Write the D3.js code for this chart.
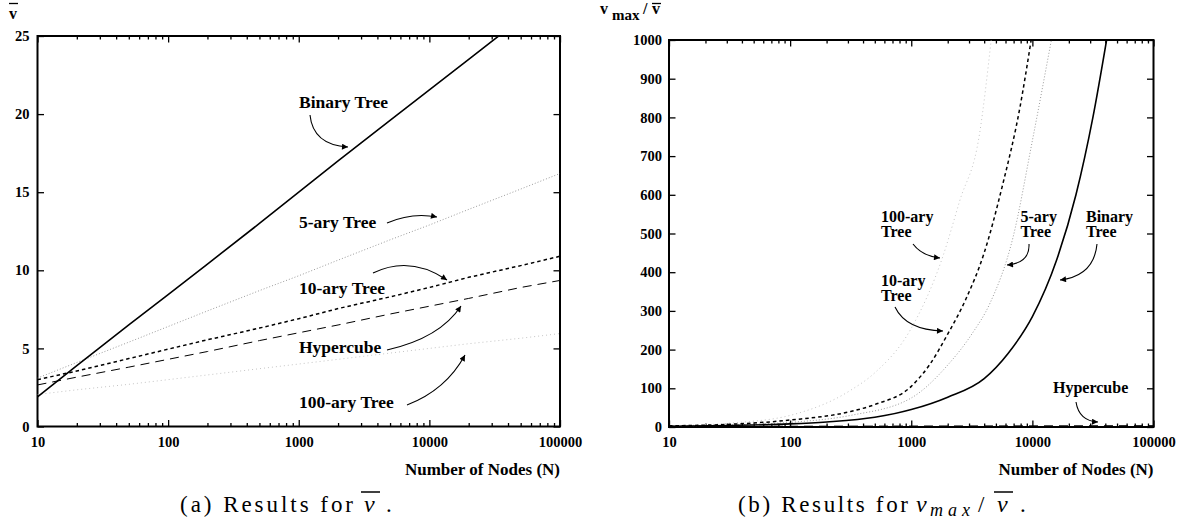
<!DOCTYPE html>
<html><head><meta charset="utf-8">
<script src="https://cdn.jsdelivr.net/npm/d3@7"></script>
<style>
html,body{margin:0;padding:0;background:#fff;}
</style></head>
<body><svg id="c" width="1190" height="521"></svg>
<script>
// ---------- DATA ----------
const xTickValues = [10, 100, 1000, 10000, 100000];
const yTicksLeft = [0, 5, 10, 15, 20, 25];
const yTicksRight = [0, 100, 200, 300, 400, 500, 600, 700, 800, 900, 1000];

// (a) mean v
const nodesA = [10, 20, 50, 100, 200, 500, 1000, 2000, 5000, 10000, 20000, 50000, 100000];
const binaryA = [1.9, 3.9, 6.5, 8.45, 10.4, 13.0, 15.0, 17.0, 19.6, 21.55, 23.5, 26.1, 28.1];
const ary5A = [3.1, 4.1, 5.4, 6.4, 7.4, 8.7, 9.65, 10.65, 11.95, 12.9, 13.9, 15.2, 16.2];
const ary10A = [3.0, 3.55, 4.35, 4.95, 5.55, 6.3, 6.9, 7.55, 8.3, 8.9, 9.55, 10.3, 10.9];
const hyperA = [2.66, 3.16, 3.8, 4.3, 4.8, 5.5, 6.0, 6.5, 7.2, 7.7, 8.2, 8.9, 9.35];
const ary100A = [2.05, 2.35, 2.7, 3.0, 3.3, 3.7, 4.0, 4.3, 4.7, 5.0, 5.3, 5.65, 5.95];

// (b) vmax / mean v
const binaryNodesB = [10, 32, 100, 200, 500, 1000, 2000, 4000, 6300, 10000, 15800, 22900, 31600, 41000];
const binaryB = [2, 4, 8, 13, 25, 45, 77, 125, 190, 285, 430, 600, 800, 1000];
const ary10NodesB = [10, 32, 100, 316, 500, 1000, 1410, 2000, 2820, 4000, 5620, 7940, 9770];
const ary10B = [3, 7, 18, 40, 58, 105, 160, 240, 330, 450, 620, 830, 1000];
const ary5NodesB = [10, 32, 100, 316, 1000, 2000, 3160, 4470, 6920, 10000, 14350];
const ary5B = [2.5, 5, 12, 30, 75, 160, 240, 320, 490, 740, 1000];
const ary100NodesB = [10, 32, 100, 316, 500, 1000, 1820, 2510, 3660, 4570];
const ary100B = [3, 10, 30, 95, 140, 255, 440, 584, 757, 1000];
const hyperNodesB = [10, 100, 1000, 10000, 100000];
const hyperB = [1.5, 2, 2.5, 3, 3.5];

// ---------- DRAW ----------
const FONT = "'Liberation Serif', 'Times New Roman', Times, serif";
const svg = d3.select("#c").attr("font-family", FONT).style("font-family", FONT);
svg.append("rect").attr("width",1190).attr("height",521).attr("fill","#fff");

const defs = svg.append("defs");
defs.append("marker").attr("id","ah").attr("viewBox","0 0 10 10").attr("refX",10).attr("refY",5)
  .attr("markerWidth",9).attr("markerHeight",6).attr("markerUnits","userSpaceOnUse").attr("orient","auto")
  .append("path").attr("d","M0,0 L10,5 L0,10 z").attr("fill","#000");

const minorVals = [];
for (let e = 1; e < 5; e++) for (let m = 2; m < 10; m++) minorVals.push(m * Math.pow(10, e));

const styles = {
  binary: {stroke:"#000", w:1.6, dash:null},
  ary5:   {stroke:"#9a9a9a", w:1, dash:"1,2"},
  ary10:  {stroke:"#000", w:1.5, dash:"3.5,3"},
  hyper:  {stroke:"#000", w:1, dash:"9,6"},
  ary100: {stroke:"#c4c4c4", w:1, dash:"1,3"}
};

function T(sel) { return sel.style("font-family", FONT); }

function panel(id, x0, x1, y0, y1, yDomain, yTicks, yPad) {
  const x = d3.scaleLog().domain([10, 100000]).range([x0, x1]);
  const y = d3.scaleLinear().domain(yDomain).range([y0, y1]);
  const g = svg.append("g");
  defs.append("clipPath").attr("id","clip"+id).append("rect")
    .attr("x",x0).attr("y",y1).attr("width",x1-x0).attr("height",y0-y1);
  g.append("g").attr("transform",`translate(0,${y0})`)
    .call(d3.axisBottom(x).tickValues(xTickValues).tickFormat(d3.format("d")).tickSize(-6.5).tickSizeOuter(0).tickPadding(10));
  g.append("g").attr("transform",`translate(0,${y0})`)
    .call(d3.axisBottom(x).tickValues(minorVals).tickFormat("").tickSize(-3.5).tickSizeOuter(0));
  g.append("g").attr("transform",`translate(0,${y1})`)
    .call(d3.axisTop(x).tickValues(xTickValues).tickFormat("").tickSize(-6.5).tickSizeOuter(0));
  g.append("g").attr("transform",`translate(0,${y1})`)
    .call(d3.axisTop(x).tickValues(minorVals).tickFormat("").tickSize(-3.5).tickSizeOuter(0));
  g.append("g").attr("transform",`translate(${x0},0)`)
    .call(d3.axisLeft(y).tickValues(yTicks).tickFormat(d3.format("d")).tickSize(-6.5).tickSizeOuter(0).tickPadding(yPad));
  g.append("g").attr("transform",`translate(${x1},0)`)
    .call(d3.axisRight(y).tickValues(yTicks).tickFormat("").tickSize(-6.5).tickSizeOuter(0));
  g.selectAll("g").attr("font-family", FONT);
  g.selectAll(".domain").remove();
  g.selectAll(".tick line").attr("stroke","#000").attr("stroke-width",1.3);
  g.selectAll(".tick text").style("font-family", FONT).style("font-weight","bold")
    .style("font-size","14.5px").attr("fill","#000");
  g.append("rect").attr("x",x0).attr("y",y1).attr("width",x1-x0).attr("height",y0-y1)
    .attr("fill","none").attr("stroke","#000").attr("stroke-width",2);
  T(g.append("text")).attr("x",x1).attr("y",475).attr("text-anchor","end")
    .attr("font-weight","bold").attr("font-size",17).text("Number of Nodes (N)");
  const lines = svg.append("g").attr("clip-path",`url(#clip${id})`);
  return {x, y, lines};
}

function drawLine(p, xs, ys, st, curve) {
  const line = d3.line().x(d => p.x(d[0])).y(d => p.y(d[1])).curve(curve || d3.curveLinear);
  p.lines.append("path").datum(xs.map((v,i)=>[v, ys[i]]))
    .attr("d", line).attr("fill","none").attr("stroke", st.stroke).attr("stroke-width", st.w)
    .attr("stroke-dasharray", st.dash);
}

// Panel (a)
const pa = panel("a", 37.5, 560, 426.5, 36, [0,25], yTicksLeft, 8);
drawLine(pa, nodesA, ary100A, styles.ary100);
drawLine(pa, nodesA, ary5A, styles.ary5);
drawLine(pa, nodesA, hyperA, styles.hyper);
drawLine(pa, nodesA, ary10A, styles.ary10);
drawLine(pa, nodesA, binaryA, styles.binary);

// Panel (b)
const pb = panel("b", 669, 1153.5, 427, 40, [0,1000], yTicksRight, 7);
const mc = d3.curveMonotoneX;
drawLine(pb, ary100NodesB, ary100B, styles.ary100, mc);
drawLine(pb, ary5NodesB, ary5B, styles.ary5, mc);
drawLine(pb, hyperNodesB, hyperB, styles.hyper, mc);
drawLine(pb, ary10NodesB, ary10B, styles.ary10, mc);
drawLine(pb, binaryNodesB, binaryB, styles.binary, mc);

// ---------- annotations ----------
function label(lines, x, yb, size, lh) {
  const t = T(svg.append("text")).attr("x",x).attr("y",yb).attr("font-weight","bold").attr("font-size",size);
  lines.forEach((s,i)=> t.append("tspan").attr("x",x).attr("dy", i? lh:0).text(s));
}
function arrow(d) {
  svg.append("path").attr("d",d).attr("fill","none").attr("stroke","#000").attr("stroke-width",1.1)
    .attr("marker-end","url(#ah)");
}
label(["Binary Tree"], 299, 108, 17.5);
arrow("M310,115 Q313,145 348,147");
label(["5-ary Tree"], 299, 228, 17.5);
arrow("M387,223 Q412,212 437,217");
label(["10-ary Tree"], 299, 294, 17.5);
arrow("M373,273 Q410,255 447,280");
label(["Hypercube"], 299, 353, 17.5);
arrow("M387,350 Q440,338 461,306");
label(["100-ary Tree"], 299, 408, 17.5);
arrow("M407,405 Q446,390 465,355");

label(["100-ary","Tree"], 881, 222, 16, 15);
arrow("M913,244 Q922,256 940,258");
label(["5-ary","Tree"], 1020.5, 222, 16, 15);
arrow("M1029,244 Q1030,263 1007,265");
label(["Binary","Tree"], 1086, 222, 16, 15);
arrow("M1097,244 Q1094,276 1060,280");
label(["10-ary","Tree"], 881, 286, 16, 15);
arrow("M895,307 Q906,330 943,331");
label(["Hypercube"], 1053, 393, 16);
arrow("M1076,402 Q1079,421 1098,422");

// ---------- y-axis titles ----------
T(svg.append("text")).attr("x",9).attr("y",19).attr("font-weight","bold").attr("font-size",16).text("v");
svg.append("line").attr("x1",9).attr("x2",18).attr("y1",3.5).attr("y2",3.5).attr("stroke","#000").attr("stroke-width",1.3);

const rt = T(svg.append("text")).attr("x",600).attr("y",14).attr("font-weight","bold").attr("font-size",16);
rt.append("tspan").text("v");
rt.append("tspan").attr("x",612).attr("y",20).attr("font-size",15).text("max");
rt.append("tspan").attr("x",643).attr("y",14).text("/");
rt.append("tspan").attr("x",652).attr("y",14).text("v");
svg.append("line").attr("x1",652).attr("x2",661).attr("y1",3.5).attr("y2",3.5).attr("stroke","#000").attr("stroke-width",1.3);

// ---------- captions ----------
function caption(prefix, x0, xEnd, yb) {
  return T(svg.append("text")).attr("x",x0).attr("y",yb).attr("font-size",23).attr("fill","#000")
    .attr("textLength", xEnd - x0).attr("lengthAdjust","spacing").text(prefix);
}
caption("(a) Results for", 180, 353, 512);
T(svg.append("text")).attr("x",364).attr("y",512).attr("font-size",24).attr("font-style","italic").text("v");
svg.append("line").attr("x1",361).attr("x2",380).attr("y1",492).attr("y2",492).attr("stroke","#000").attr("stroke-width",1.5);
T(svg.append("text")).attr("x",386).attr("y",512).attr("font-size",23).text(".");

caption("(b) Results for", 738, 908, 512);
T(svg.append("text")).attr("x",916).attr("y",512).attr("font-size",24).attr("font-style","italic").text("v");
T(svg.append("text")).attr("x",930).attr("y",516).attr("font-size",18).attr("font-style","italic")
  .attr("textLength",40).attr("lengthAdjust","spacing").text("max");
T(svg.append("text")).attr("x",978).attr("y",512).attr("font-size",23).text("/");
T(svg.append("text")).attr("x",997).attr("y",512).attr("font-size",24).attr("font-style","italic").text("v");
svg.append("line").attr("x1",994).attr("x2",1013).attr("y1",492).attr("y2",492).attr("stroke","#000").attr("stroke-width",1.5);
T(svg.append("text")).attr("x",1020).attr("y",512).attr("font-size",23).text(".");
</script></body></html>
